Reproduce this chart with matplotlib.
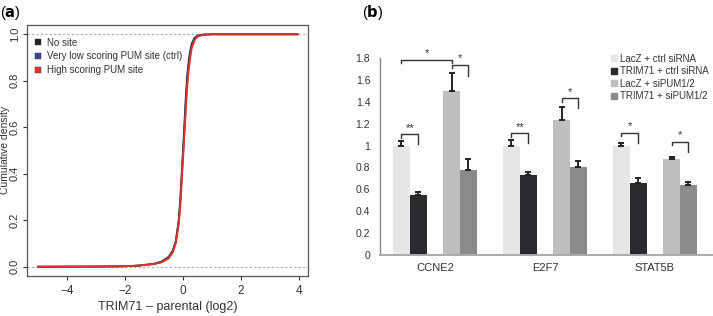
import numpy as np
import matplotlib
matplotlib.use("Agg")
import matplotlib.pyplot as plt
from matplotlib.lines import Line2D

plt.rcParams['font.family'] = ['Liberation Sans', 'DejaVu Sans']

# ---------------- Panel (a) data: cumulative curves ----------------
cdf_x = [-5.0, -3.0, -2.0, -1.5, -1.0, -0.75, -0.5, -0.35, -0.25, -0.15, -0.1, 0.0,
         0.05, 0.1, 0.15, 0.2, 0.25, 0.3, 0.4, 0.5, 0.7, 1.0, 3.95]
cdf_nosite = [0.0, 0.0005, 0.002, 0.005, 0.012, 0.02, 0.04, 0.07, 0.11, 0.2, 0.28, 0.5,
              0.62, 0.74, 0.83, 0.89, 0.93, 0.96, 0.985, 0.994, 0.999, 1.0, 1.0]
cdf_lowsite = [0.0, 0.0005, 0.002, 0.005, 0.013, 0.022, 0.042, 0.068, 0.105, 0.19, 0.265, 0.48,
               0.595, 0.71, 0.805, 0.87, 0.915, 0.95, 0.98, 0.992, 0.998, 1.0, 1.0]
cdf_highsite = [0.0, 0.0005, 0.002, 0.005, 0.011, 0.018, 0.035, 0.062, 0.10, 0.18, 0.25, 0.46,
                0.57, 0.68, 0.78, 0.85, 0.90, 0.94, 0.975, 0.99, 0.998, 1.0, 1.0]
series_a_labels = ["No site", "Very low scoring PUM site (ctrl)", "High scoring PUM site"]
series_a_colors = ["#222222", "#2b4a9a", "#e8321e"]

# ---------------- Panel (b) data ----------------
genes = ["CCNE2", "E2F7", "STAT5B"]
conditions = ["LacZ + ctrl siRNA", "TRIM71 + ctrl siRNA", "LacZ + siPUM1/2", "TRIM71 + siPUM1/2"]
values = {
    "LacZ + ctrl siRNA":   [1.00, 1.00, 1.00],
    "TRIM71 + ctrl siRNA": [0.55, 0.735, 0.655],
    "LacZ + siPUM1/2":     [1.50, 1.235, 0.875],
    "TRIM71 + siPUM1/2":   [0.78, 0.80, 0.64],
}
errors = {
    "LacZ + ctrl siRNA":   [0.04, 0.05, 0.02],
    "TRIM71 + ctrl siRNA": [0.025, 0.025, 0.045],
    "LacZ + siPUM1/2":     [0.165, 0.115, 0.02],
    "TRIM71 + siPUM1/2":   [0.10, 0.06, 0.025],
}
bar_colors = ["#e6e6e6", "#2a2a2e", "#bdbebf", "#8a8a8c"]
y_ticks_b = [0, 0.2, 0.4, 0.6, 0.8, 1, 1.2, 1.4, 1.6, 1.8]
y_ticklabels_b = ["0", "0.2", "0.4", "0.6", "0.8", "1", "1.2", "1.4", "1.6", "1.8"]

# significance brackets: (gene, bar_i, bar_j, level, left_leg_end, right_leg_end, label)
brackets = [
    (0, 0, 1, 1.103, 1.066, 1.011, "**"),
    (0, 0, 2, 1.782, 1.757, 1.757, "*"),
    (0, 2, 3, 1.736, 1.709, 1.638, "*"),
    (1, 0, 1, 1.112, 1.075, 1.02, "**"),
    (1, 2, 3, 1.432, 1.40, 1.34, "*"),
    (2, 0, 1, 1.118, 1.09, 1.02, "*"),
    (2, 2, 3, 1.035, 1.005, 0.94, "*"),
]

# ---------------- Figure ----------------
W, H = 713, 316
fig = plt.figure(figsize=(W / 100, H / 100), dpi=100)

def fig_rect(x0, y0, x1, y1):
    return [x0 / W, 1 - y1 / H, (x1 - x0) / W, (y1 - y0) / H]

# ---- Panel (a)
axa = fig.add_axes(fig_rect(27, 25, 308, 276))
for ys, lab, col in zip([cdf_nosite, cdf_lowsite, cdf_highsite], series_a_labels, series_a_colors):
    axa.plot(cdf_x, ys, color=col, lw=1.3, label=lab)
axa.axhline(0, color="#aaaaaa", ls=(0, (2, 2)), lw=0.8, zorder=0)
axa.axhline(1, color="#aaaaaa", ls=(0, (2, 2)), lw=0.8, zorder=0)
axa.set_xlim(-5.38, 4.31)
axa.set_ylim(-0.04, 1.04)
axa.set_xticks([-4, -2, 0, 2, 4])
axa.set_xticklabels(["\u22124", "\u22122", "0", "2", "4"])
axa.set_yticks([0, 0.2, 0.4, 0.6, 0.8, 1.0])
axa.set_yticklabels(["0.0", "0.2", "0.4", "0.6", "0.8", "1.0"], rotation=90, va="center")
axa.tick_params(axis="both", labelsize=8.5, colors="#333333", length=3, width=0.8,
                labelcolor="#333333")
axa.tick_params(axis="y", pad=2, labelsize=8)
for s in axa.spines.values():
    s.set_color("#555555")
    s.set_linewidth(0.9)
axa.set_xlabel("TRIM71 \u2013 parental (log2)", fontsize=9, color="#333333", labelpad=3)
handles_a = [Line2D([], [], ls="none", marker="s", markersize=5, markerfacecolor=c,
                    markeredgecolor="#333333", markeredgewidth=0.3) for c in series_a_colors]
axa.legend(handles_a, series_a_labels, loc="upper left", bbox_to_anchor=(0.01, 0.965),
           frameon=False, fontsize=7, handlelength=0.8, handletextpad=0.6,
           labelspacing=0.38, borderaxespad=0.0, labelcolor="#333333")
fig.text(0.5 / W, 1 - 150 / H, "Cumulative density", rotation=90, ha="left", va="center",
         fontsize=7.5, color="#333333")
fig.text(0.5 / W, 1 - 13 / H, r"($\mathbf{a}$)", ha="left", va="center", fontsize=10.5)

# ---- Panel (b)
axb = fig.add_axes(fig_rect(380, 58, 712, 255))
gene_step = 6.55
offsets = [0, 1, 3, 4]
gene_base = np.arange(len(genes)) * gene_step
for k, cond in enumerate(conditions):
    xs = gene_base + offsets[k]
    axb.bar(xs, values[cond], width=1.0, align="edge", color=bar_colors[k], zorder=2)
    centers = xs + 0.5
    err = np.array(errors[cond])
    axb.errorbar(centers, values[cond], yerr=[np.zeros_like(err), err], fmt="none",
                 ecolor="#222222", elinewidth=1.4, capsize=2.3, capthick=1.4, zorder=3)

for g, i, j, lev, yl, yr, lab in brackets:
    xi = gene_base[g] + offsets[i] + 0.5
    xj = gene_base[g] + offsets[j] + 0.5
    axb.plot([xi, xi, xj, xj], [yl, lev, lev, yr], color="#333333", lw=1.0,
             clip_on=False, zorder=4)
    axb.text((xi + xj) / 2, lev + 0.015, lab, ha="center", va="bottom", fontsize=8,
             color="#333333", clip_on=False)

axb.set_xlim(-0.77, 19.0)
axb.set_ylim(0, 1.8)
axb.set_yticks(y_ticks_b)
axb.set_yticklabels(y_ticklabels_b)
axb.set_xticks(gene_base + 2.5)
axb.set_xticklabels(genes)
axb.tick_params(axis="both", length=0, labelsize=7.5, colors="#333333", labelcolor="#333333")
axb.tick_params(axis="y", pad=7)
axb.tick_params(axis="x", pad=6, labelsize=8)
for side in ["top", "right"]:
    axb.spines[side].set_visible(False)
axb.spines["left"].set_color("#8a8a8a")
axb.spines["bottom"].set_color("#aaaaaa")
axb.spines["left"].set_linewidth(1.0)
axb.spines["bottom"].set_linewidth(1.4)

handles_b = [Line2D([], [], ls="none", marker="s", markersize=4.5, markerfacecolor=c,
                    markeredgecolor=c) for c in bar_colors]
fig.legend(handles_b, conditions, loc="upper left", bbox_to_anchor=(607 / W, 1 - 50 / H),
           frameon=False, fontsize=7, handlelength=0.6, handletextpad=0.3,
           labelspacing=0.25, borderaxespad=0.0, labelcolor="#333333")
fig.text(362 / W, 1 - 13 / H, r"($\mathbf{b}$)", ha="left", va="center", fontsize=10.5)

fig.savefig("out.png", dpi=100)
